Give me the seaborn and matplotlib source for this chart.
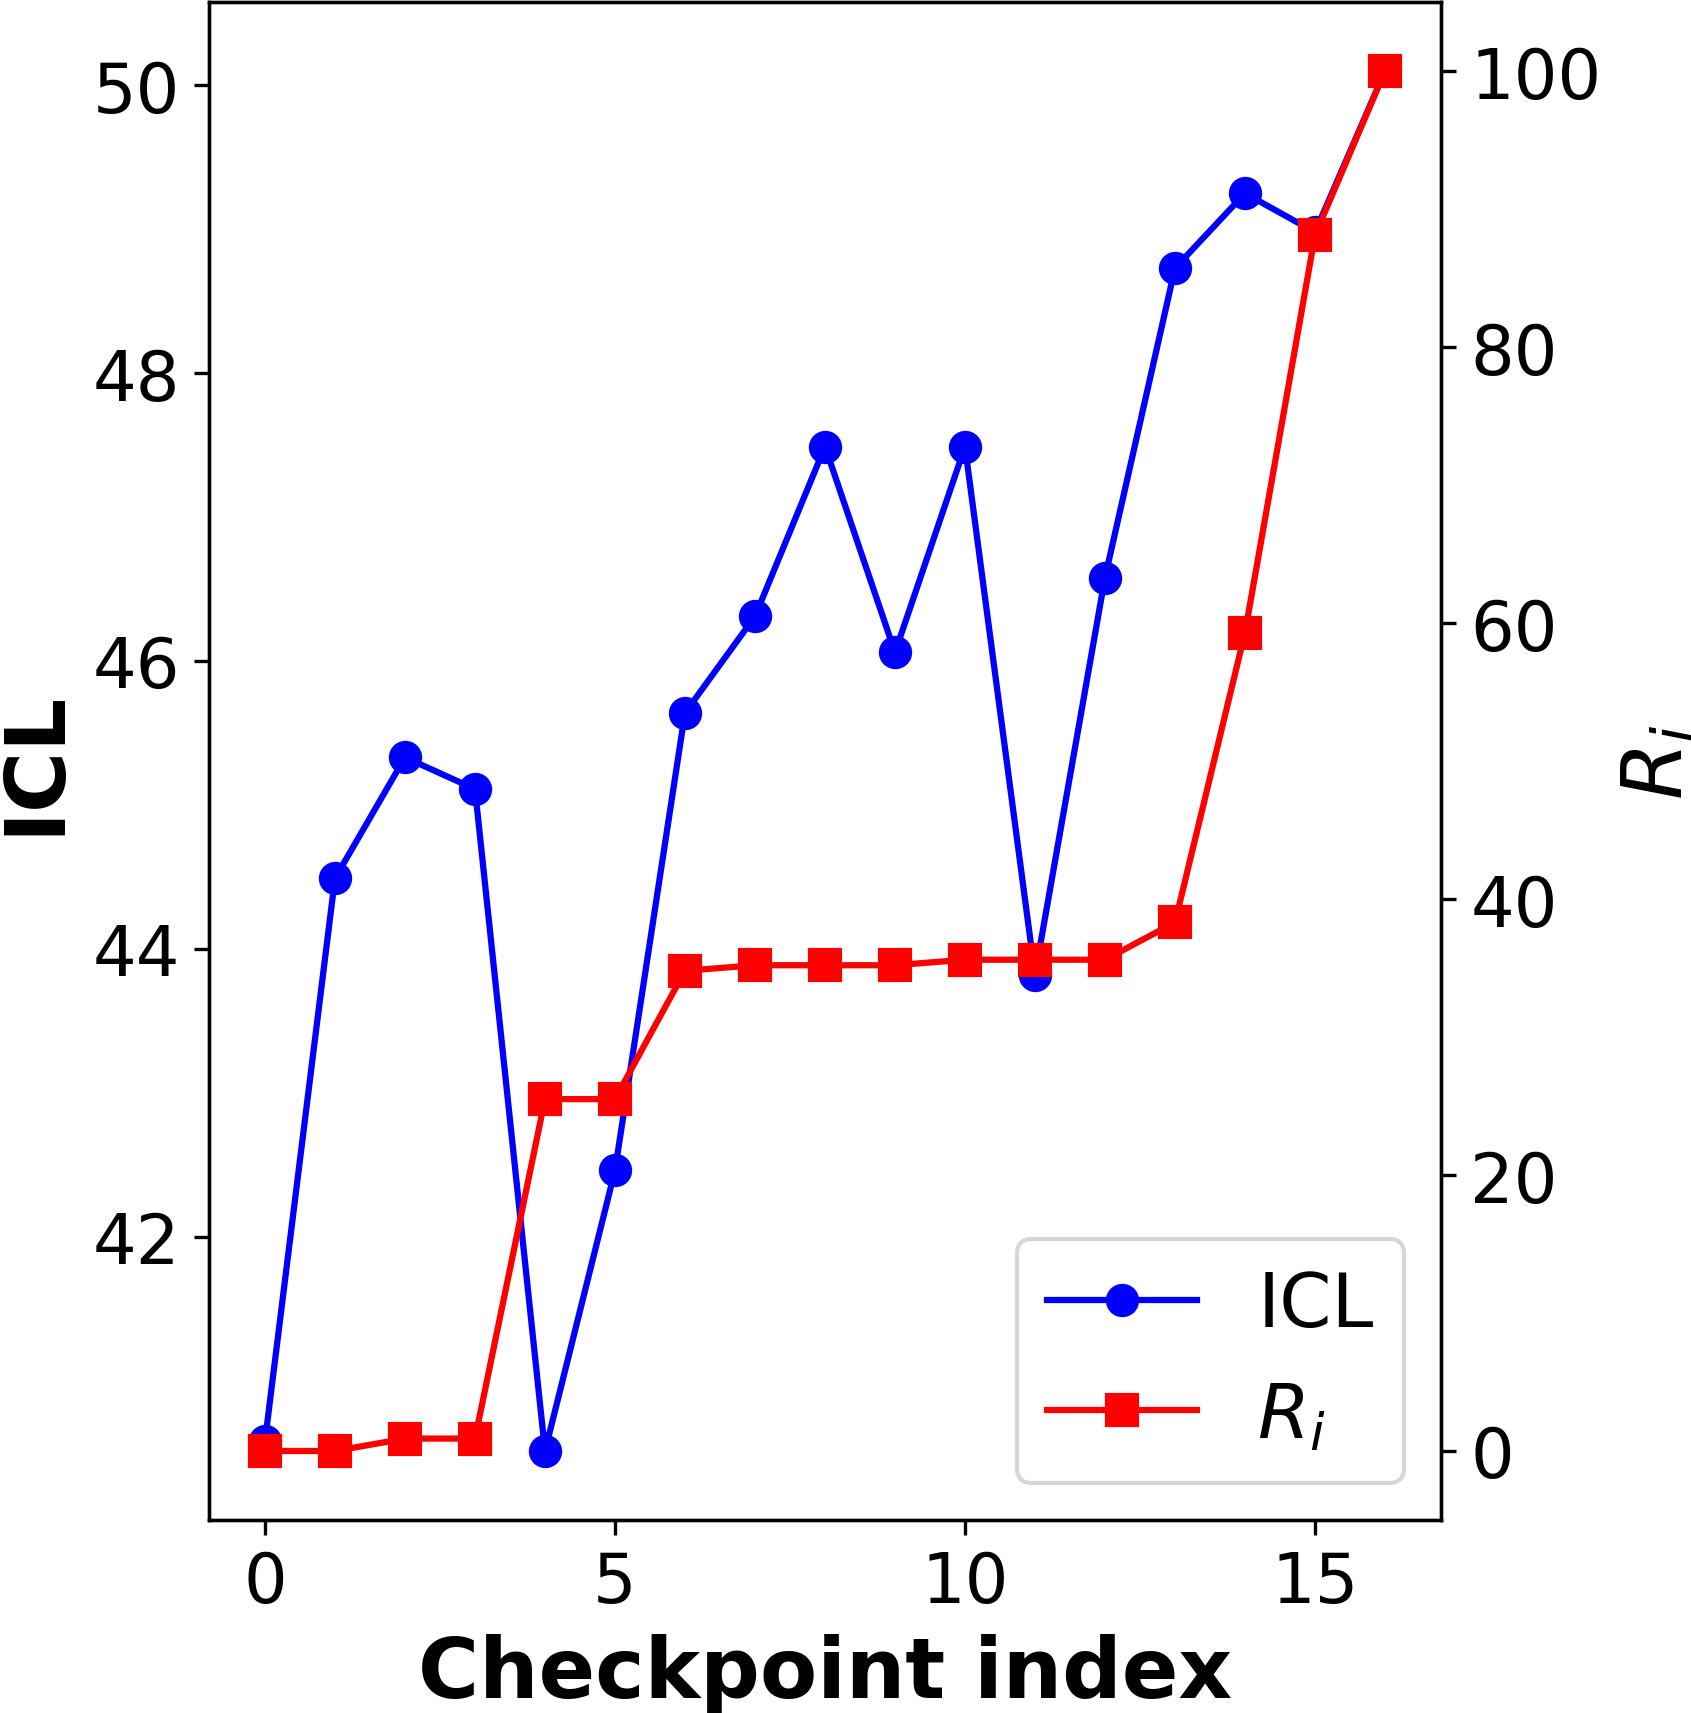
import matplotlib
matplotlib.use("Agg")
import matplotlib.pyplot as plt
import seaborn as sns

# checkpoint index and the two measured series
checkpoints = list(range(17))
icl = [40.58, 44.49, 45.33, 45.11, 40.51, 42.46, 45.64, 46.31, 47.49,
       46.06, 47.49, 43.82, 46.58, 48.73, 49.25, 48.98, 50.10]
r_i = [0.0, 0.0, 0.9, 0.9, 25.5, 25.5, 34.8, 35.2, 35.2,
       35.2, 35.6, 35.6, 35.6, 38.3, 59.3, 88.1, 100.0]

fig = plt.figure(figsize=(1691 / 300, 1714 / 300), dpi=300)
ax = fig.add_axes([209 / 1691, 1 - 1521 / 1714, (1441 - 209) / 1691, (1521 - 3) / 1714])
ax2 = ax.twinx()

sns.lineplot(x=checkpoints, y=icl, ax=ax, color="blue", marker="o",
             markersize=7, linewidth=1.5, markeredgecolor="blue",
             markeredgewidth=1, label="ICL", legend=False)
sns.lineplot(x=checkpoints, y=r_i, ax=ax2, color="red", marker="s",
             markersize=7, linewidth=1.5, markeredgecolor="red",
             markeredgewidth=1, label="$R_i$", legend=False)

ax.set_xlabel("Checkpoint index", fontsize=20, fontweight="bold")
ax.set_ylabel("ICL", fontsize=20, fontweight="bold")
ax2.set_ylabel("$R_i$", fontsize=20)

ax.set_xticks([0, 5, 10, 15])
ax.set_yticks([42, 44, 46, 48, 50])
ax2.set_yticks([0, 20, 40, 60, 80, 100])
ax.tick_params(labelsize=16.5)
ax2.tick_params(labelsize=16.5)

h1, l1 = ax.get_legend_handles_labels()
h2, l2 = ax2.get_legend_handles_labels()
ax2.legend(h1 + h2, l1 + l2, loc="lower right", fontsize=18)

fig.savefig("out.png", dpi=300)
